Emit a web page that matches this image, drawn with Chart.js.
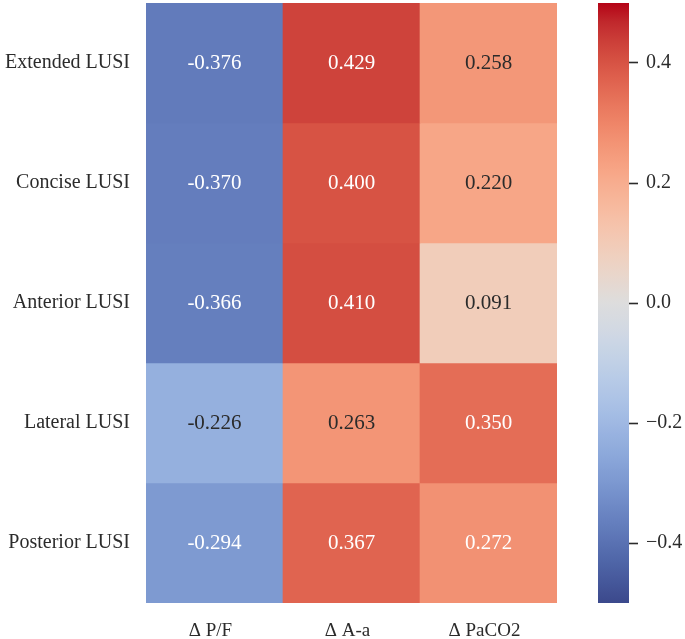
<!DOCTYPE html>
<html>
<head>
<meta charset="utf-8">
<script src="https://cdn.jsdelivr.net/npm/chart.js@4/dist/chart.umd.min.js"></script>
<style>
  body { margin: 0; background: #fff; }
  #wrap { position: relative; width: 685px; height: 639px; }
  #heatBox { position: absolute; left: 0; top: 0; width: 570px; height: 639px; }
  #barBox { position: absolute; left: 560px; top: 0; width: 125px; height: 639px; }
</style>
</head>
<body>
<div id="wrap">
  <div id="heatBox"><canvas id="heat"></canvas></div>
  <div id="barBox"><canvas id="cbar"></canvas></div>
</div>
<script>
const rows = ["Extended LUSI", "Concise LUSI", "Anterior LUSI", "Lateral LUSI", "Posterior LUSI"];
const cols = ["\u0394 P/F", "\u0394 A-a", "\u0394 PaCO2"];
const pf = [-0.376, -0.370, -0.366, -0.226, -0.294];
const aa = [0.429, 0.400, 0.410, 0.263, 0.367];
const paco2 = [0.258, 0.220, 0.091, 0.350, 0.272];
const cbTicks = [-0.4, -0.2, 0.0, 0.2, 0.4];
const vmin = -0.5;
const vmax = 0.5;

// coolwarm (Moreland) control points
const cw = [
  [59,76,192],[68,90,204],[77,104,215],[87,117,225],[98,130,234],[108,142,241],
  [119,154,247],[130,165,251],[141,176,254],[152,185,255],[163,194,255],[174,201,253],
  [184,208,249],[194,213,244],[204,217,238],[213,219,230],[221,221,221],[229,216,209],
  [236,211,197],[241,204,185],[245,196,173],[247,187,160],[247,177,148],[247,166,135],
  [244,154,123],[241,141,111],[236,127,99],[229,112,88],[222,96,77],[213,80,66],
  [203,62,56],[192,40,47],[180,4,38]
];

function rawRGB(v) {
  let t = (v - vmin) / (vmax - vmin);
  t = Math.max(0, Math.min(1, t)) * (cw.length - 1);
  const i = Math.min(Math.floor(t), cw.length - 2);
  const f = t - i;
  return cw[i].map((c, k) => c + (cw[i + 1][k] - c) * f);
}
// the reference's blues look washed out, so pull saturated blue back a bit
function cmapRGB(v) {
  let [r, g, b] = rawRGB(v);
  if (b > g) {
    b = b - 0.45 * (b - g);
    if (g > r) g = g - 0.2 * (g - r);
  }
  return [r, g, b].map(Math.round);
}
function cmap(v) {
  const c = cmapRGB(v);
  return `rgb(${c[0]},${c[1]},${c[2]})`;
}
function textColor(v) {
  const lin = rawRGB(v).map(c => {
    c = c / 255;
    return c <= 0.03928 ? c / 12.92 : Math.pow((c + 0.055) / 1.055, 2.4);
  });
  const lum = 0.2126 * lin[0] + 0.7152 * lin[1] + 0.0722 * lin[2];
  return lum > 0.408 ? "#2b2b2b" : "#ffffff";
}

const fontFamily = "'Liberation Serif', 'Times New Roman', serif";
const inkColor = "#2b2b2b";

const heatDatasets = rows.map((r, i) => {
  const vals = [pf[i], aa[i], paco2[i]];
  return {
    label: r,
    vals: vals,
    data: cols.map(() => [i, i + 1]),
    backgroundColor: vals.map(cmap),
    borderWidth: 0,
    grouped: false,
    barPercentage: 1,
    categoryPercentage: 1,
  };
});

const annotate = {
  id: "annotate",
  afterDatasetsDraw(chart) {
    const c = chart.ctx;
    c.save();
    c.font = "21px " + fontFamily;
    c.textAlign = "center";
    c.textBaseline = "middle";
    chart.data.datasets.forEach((ds, i) => {
      chart.getDatasetMeta(i).data.forEach((bar, j) => {
        const p = bar.getCenterPoint();
        c.fillStyle = textColor(ds.vals[j]);
        c.fillText(ds.vals[j].toFixed(3), p.x, p.y);
      });
    });
    c.restore();
  },
};

new Chart(document.getElementById("heat"), {
  type: "bar",
  data: { labels: cols, datasets: heatDatasets },
  options: {
    responsive: true,
    maintainAspectRatio: false,
    animation: false,
    layout: { padding: { top: 3, right: 13, left: 0, bottom: 0 } },
    plugins: { legend: { display: false }, tooltip: { enabled: false } },
    scales: {
      x: {
        grid: { display: false, drawTicks: false },
        border: { display: false },
        ticks: {
          color: inkColor,
          font: { family: fontFamily, size: 19 },
          padding: 17,
          labelOffset: -4,
        },
        afterFit(scale) {
          scale.height = 36;
          scale.paddingLeft = 0;
          scale.paddingRight = 0;
        },
      },
      y: {
        min: 0,
        max: rows.length,
        reverse: true,
        grid: { display: false, drawTicks: false },
        border: { display: false },
        afterBuildTicks(scale) {
          scale.ticks = rows.map((r, i) => ({ value: i + 0.5 }));
        },
        ticks: {
          color: inkColor,
          font: { family: fontFamily, size: 20 },
          padding: 16,
          callback: (v) => rows[Math.floor(v)],
        },
        afterFit(scale) {
          scale.width = 146;
          scale.paddingTop = 0;
          scale.paddingBottom = 0;
        },
      },
    },
  },
  plugins: [annotate],
});

function cbarGradient(context) {
  const chart = context.chart;
  if (!chart.chartArea) return null;
  const yScale = chart.scales.y;
  const g = chart.ctx.createLinearGradient(0, yScale.getPixelForValue(vmin), 0, yScale.getPixelForValue(vmax));
  const n = 64;
  for (let k = 0; k <= n; k++) {
    g.addColorStop(k / n, cmap(vmin + (vmax - vmin) * k / n));
  }
  return g;
}

new Chart(document.getElementById("cbar"), {
  type: "bar",
  data: {
    labels: [""],
    datasets: [{
      data: [[vmin, vmax]],
      backgroundColor: cbarGradient,
      borderWidth: 0,
      barPercentage: 1,
      categoryPercentage: 1,
    }],
  },
  options: {
    responsive: true,
    maintainAspectRatio: false,
    animation: false,
    layout: { padding: { top: 3, right: 0, left: 38, bottom: 36 } },
    plugins: { legend: { display: false }, tooltip: { enabled: false } },
    scales: {
      x: { display: false },
      y: {
        position: "right",
        min: vmin,
        max: vmax,
        afterBuildTicks(scale) {
          scale.ticks = cbTicks.map(v => ({ value: v }));
        },
        grid: {
          drawOnChartArea: false,
          tickLength: 9,
          tickWidth: 1.6,
          tickColor: inkColor,
        },
        border: { display: false },
        ticks: {
          color: inkColor,
          font: { family: fontFamily, size: 20 },
          padding: 8,
          callback: (v) => v.toFixed(1).replace("-", "\u2212"),
        },
        afterFit(scale) {
          scale.width = 56;
          scale.paddingTop = 0;
          scale.paddingBottom = 0;
        },
      },
    },
  },
});
</script>
</body>
</html>
